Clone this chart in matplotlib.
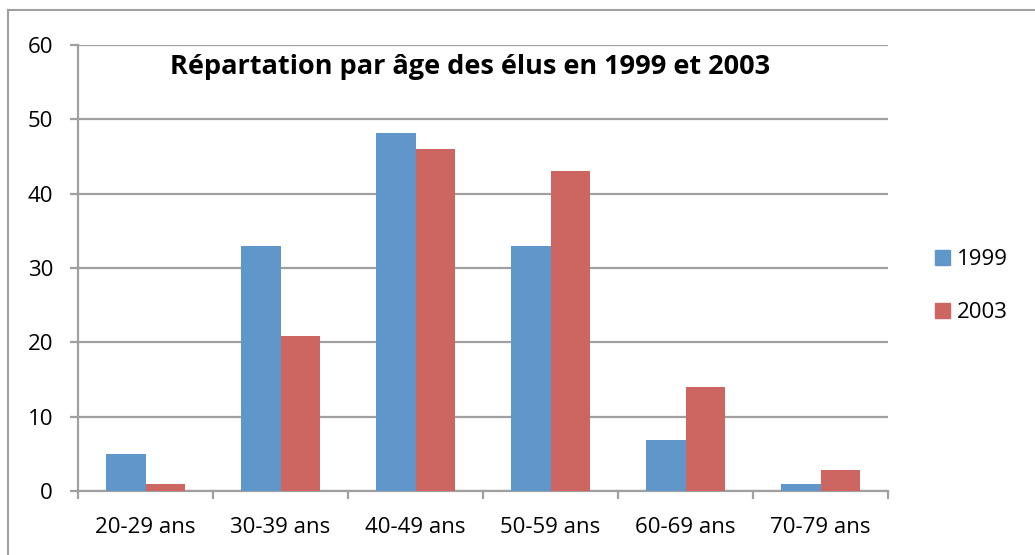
import numpy as np
import matplotlib.pyplot as plt
from matplotlib.patches import Patch
from matplotlib.lines import Line2D

# données
categories = ['20-29 ans', '30-39 ans', '40-49 ans', '50-59 ans', '60-69 ans', '70-79 ans']
elus_1999 = [5, 33, 48.2, 33, 6.8, 1]
elus_2003 = [1, 20.8, 46, 43.1, 14, 2.8]
series = ['1999', '2003']

bleu = '#6097CA'
rouge = '#CD6560'
gris = '#A0A0A0'

plt.rcParams['font.family'] = ['Open Sans', 'DejaVu Sans']

fig = plt.figure(figsize=(10.35, 5.55), dpi=100)
ax = fig.add_axes([0.0754, 0.1153, 0.7826, 0.8036])

x = np.arange(len(categories))
larg = 0.29
ax.bar(x - larg / 2, elus_1999, larg, color=bleu, zorder=3)
ax.bar(x + larg / 2, elus_2003, larg, color=rouge, zorder=3)

ax.set_xlim(-0.5, len(categories) - 0.5)
ax.set_ylim(0, 60)
ax.set_yticks(range(0, 61, 10))
ax.yaxis.grid(True, color=gris, linewidth=1.6, zorder=0)

ax.set_xticks(x)
ax.set_xticklabels(categories, fontsize=16)
ax.tick_params(axis='x', which='major', length=0, pad=19)
ax.set_xticks(np.arange(-0.5, len(categories)), minor=True)
ax.tick_params(axis='x', which='minor', length=6, width=1.6, color=gris)
ax.tick_params(axis='y', length=6, width=1.6, color=gris, labelsize=16, pad=12)

for s in ['top', 'right']:
    ax.spines[s].set_visible(False)
for s in ['left', 'bottom']:
    ax.spines[s].set_color(gris)
    ax.spines[s].set_linewidth(1.6)

ax.text(0.484, 0.95, 'Répartation par âge des élus en 1999 et 2003',
        transform=ax.transAxes, ha='center', va='center',
        fontsize=19.5, fontweight='bold')

handles = [Patch(color=bleu), Patch(color=rouge)]
fig.legend(handles, series, loc='center left', bbox_to_anchor=(0.884, 0.484),
           frameon=False, fontsize=16, handlelength=0.68, handleheight=0.68,
           handletextpad=0.3, labelspacing=1.45)

# cadre partiel
fig.add_artist(Line2D([8 / 1035, 1], [1 - 10 / 555, 1 - 10 / 555], color=gris, linewidth=1.5))
fig.add_artist(Line2D([8 / 1035, 8 / 1035], [0, 1 - 10 / 555], color=gris, linewidth=1.5))

fig.savefig('out.png', dpi=100)
